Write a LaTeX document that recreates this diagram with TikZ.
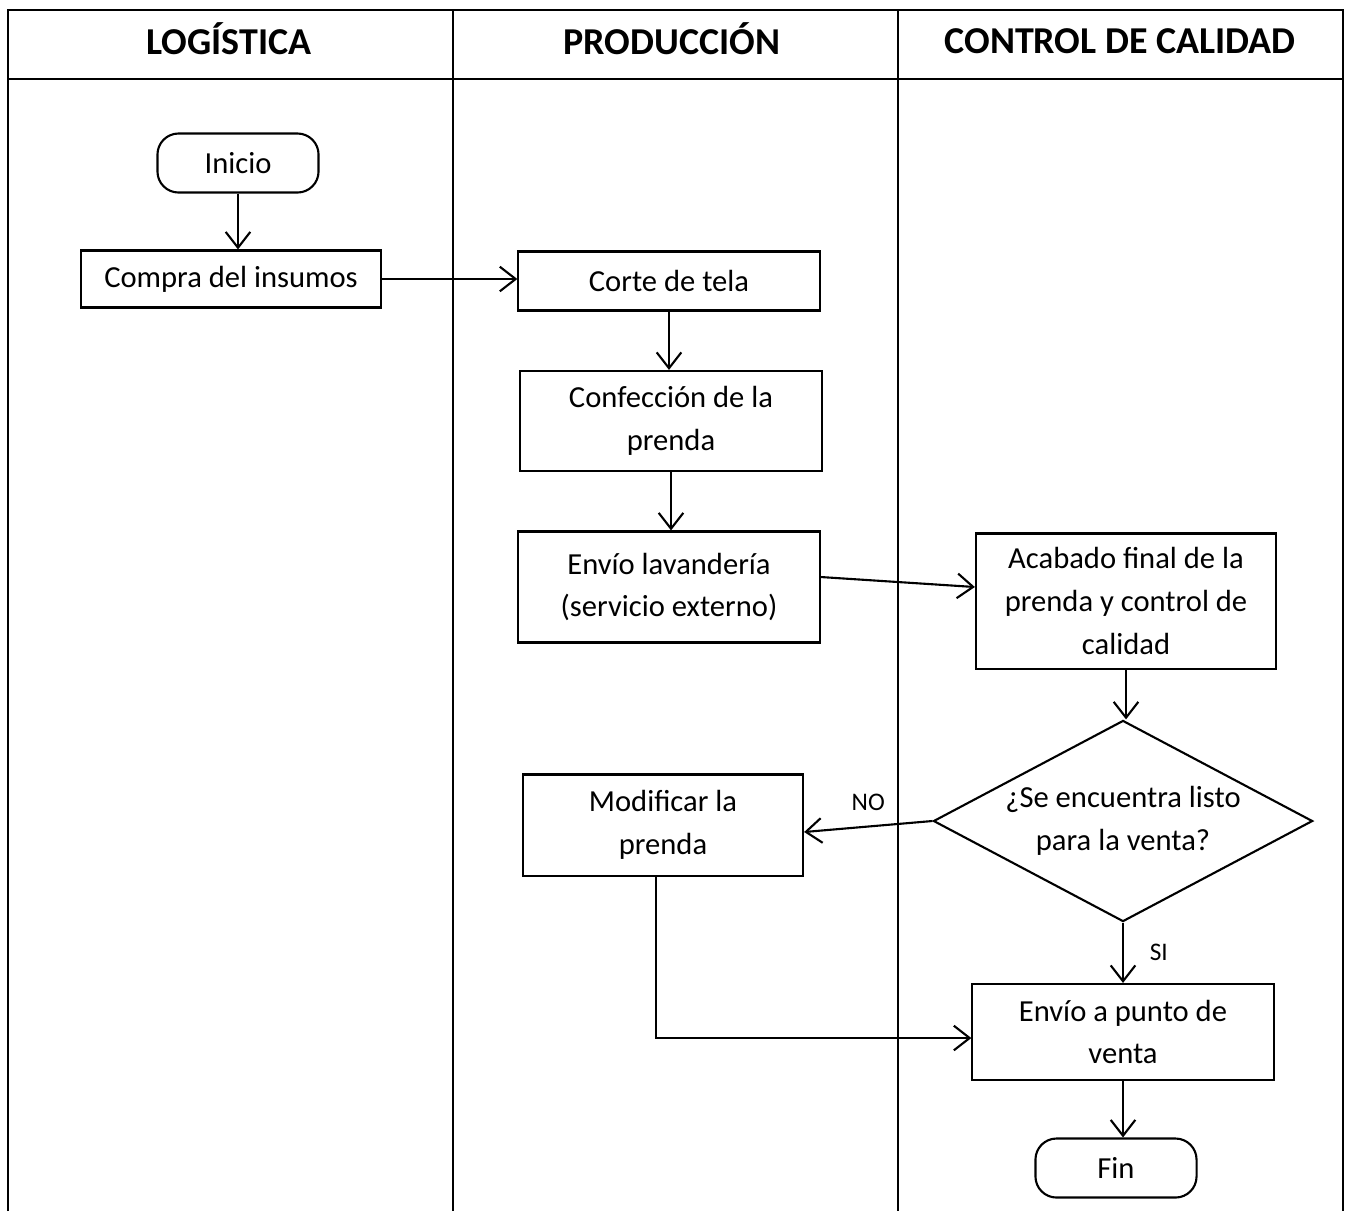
\documentclass[tikz,border=0pt]{standalone}
\usepackage{fontspec}
\setmainfont{Carlito}
\usetikzlibrary{shapes.geometric,arrows.meta,calc}

\begin{document}
\begin{tikzpicture}[x=0.01cm,y=-0.01cm,line width=0.6pt,
    font=\fontsize{8.7}{12.2}\selectfont]

        \useasboundingbox (0,0) rectangle (1346,1211);

        \draw (8,1211) -- (8,10) -- (1343,10) -- (1343,1211);
        \draw (8,79) -- (1343,79);
        \draw (453,10) -- (453,1211);
        \draw (898,10) -- (898,1211);

        \begin{scope}[every node/.style={font=\fontsize{10.8}{13}\selectfont\bfseries}]
          \node (h1) at (229,39) {LOGÍSTICA};
          \node (h2) at (672,39) {PRODUCCIÓN};
          \node (h3) at (1120,41) {CONTROL DE CALIDAD};
        \end{scope}

        \begin{scope}[every node/.style={draw,align=center,inner sep=2pt}]
          \node[rounded corners=6pt,minimum width=1.61cm,minimum height=0.59cm] (1) at (238,163) {Inicio};
          \node[minimum width=2.99cm,minimum height=0.57cm] (2) at (231,279) {Compra del insumos};
          \node[minimum width=3.01cm,minimum height=0.59cm] (3) at (669,281) {Corte de tela};
          \node[minimum width=3.01cm,minimum height=1.00cm] (4) at (671,421) {Confección de la\\prenda};
          \node[minimum width=3.01cm,minimum height=1.11cm] (5) at (669,587) {Envío lavandería\\(servicio externo)};
          \node[minimum width=3.00cm,minimum height=1.35cm] (6) at (1126,601) {Acabado final de la\\prenda y control de\\calidad};
          \node[diamond,aspect=1.9,inner sep=0pt,minimum width=3.79cm,minimum height=2.01cm] (7) at (1123,821) {¿Se encuentra listo\\para la venta?};
          \node[minimum width=2.80cm,minimum height=1.01cm] (8) at (663,825) {Modificar la\\prenda};
          \node[minimum width=3.01cm,minimum height=0.96cm] (9) at (1123,1032) {Envío a punto de\\venta};
          \node[rounded corners=6pt,minimum width=1.61cm,minimum height=0.59cm] (10) at (1116,1168) {Fin};
        \end{scope}

        \begin{scope}[every edge/.style={draw,-{Straight Barb[length=4.5pt,width=7pt]}}]
          \path (1.south) edge (1.south |- 2.north);
          \path (2) edge (2 -| 3.west);
          \path (3.south) edge (3.south |- 4.north);
          \path (4.south) edge (4.south |- 5.north);
          \path ($(5.east)+(0,-10)$) edge ($(6.west)+(0,-14)$);
          \path (6.south) edge (6.south |- 7.north);
          \path (7.west) edge node[above=1pt,font=\fontsize{7.2}{9}\selectfont] {NO} ($(8.east)+(0,7)$);
          \path (7.south) edge node[right=4pt,font=\fontsize{7.2}{9}\selectfont] {SI} (9.north);
          \path (9.south) edge (9.south |- 10.north);
        \end{scope}

        \draw[-{Straight Barb[length=4.5pt,width=7pt]}] ($(8.south)+(-7,0)$) |- ($(9.west)+(0,6)$);

      \end{tikzpicture}
\end{document}
